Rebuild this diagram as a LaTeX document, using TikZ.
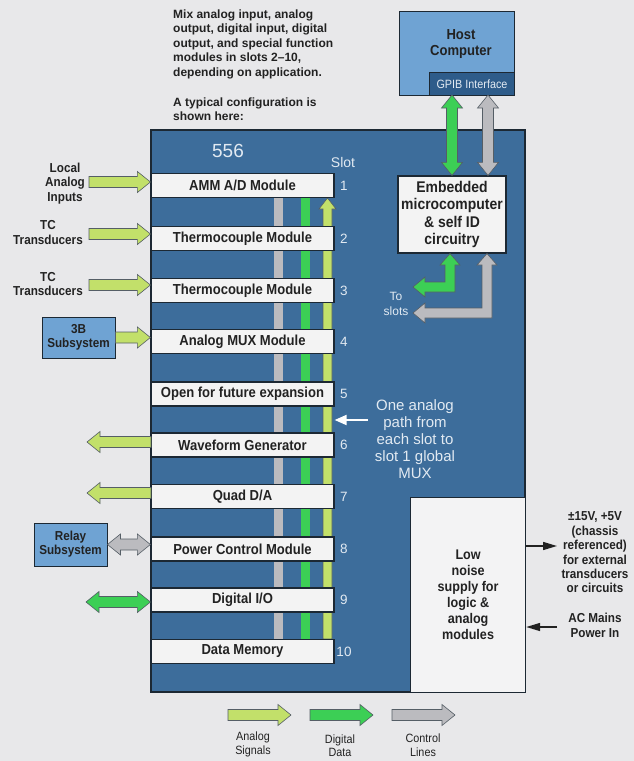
\documentclass[tikz,border=0pt]{standalone}
\usepackage{fontspec}
\setmainfont{Liberation Sans}
\newfontfamily\cond{Liberation Sans}[FakeStretch=0.9]
\usetikzlibrary{arrows.meta,calc}
\definecolor{bgc}{HTML}{E8E8EA}
\definecolor{chassis}{HTML}{3D6D9B}
\definecolor{lblue}{HTML}{6FA3D3}
\definecolor{dblue}{HTML}{2E5C8A}
\definecolor{ygreen}{HTML}{C2E06A}
\definecolor{dgreen}{HTML}{3CCF55}
\definecolor{cgrey}{HTML}{BBBBBF}
\definecolor{boxw}{HTML}{F3F3F3}
\definecolor{ink}{HTML}{222222}
\definecolor{pale}{HTML}{E2EAF2}
\definecolor{edge}{HTML}{1C2833}

\newcommand\faS{5.5pt}
\newcommand\faH{10.5pt}
\newcommand\faL{13pt}

% horizontal fat arrow, tail #2 (gives y), head at x of #3
\newcommand\fatH[3]{%
 \path[#1] let \p1=(#2), \p2=(#3), \n1={sign(\x2-\x1)} in
 (\x1,{\y1+\faS}) -- ({\x2-(\n1)*\faL},{\y1+\faS}) -- ({\x2-(\n1)*\faL},{\y1+\faH}) -- (\x2,\y1)
 -- ({\x2-(\n1)*\faL},{\y1-\faH}) -- ({\x2-(\n1)*\faL},{\y1-\faS}) -- (\x1,{\y1-\faS}) -- cycle;}
% horizontal double-headed fat arrow
\newcommand\fatHH[3]{%
 \path[#1] let \p1=(#2), \p2=(#3), \n1={sign(\x2-\x1)} in
 (\x1,\y1) -- ({\x1+(\n1)*\faL},{\y1+\faH}) -- ({\x1+(\n1)*\faL},{\y1+\faS})
 -- ({\x2-(\n1)*\faL},{\y1+\faS}) -- ({\x2-(\n1)*\faL},{\y1+\faH}) -- (\x2,\y1)
 -- ({\x2-(\n1)*\faL},{\y1-\faH}) -- ({\x2-(\n1)*\faL},{\y1-\faS})
 -- ({\x1+(\n1)*\faL},{\y1-\faS}) -- ({\x1+(\n1)*\faL},{\y1-\faH}) -- cycle;}
% vertical fat arrow, tail #2 (gives x), head at y of #3
\newcommand\fatV[3]{%
 \path[#1] let \p1=(#2), \p2=(#3), \n1={sign(\y2-\y1)} in
 ({\x1+\faS},\y1) -- ({\x1+\faS},{\y2-(\n1)*\faL}) -- ({\x1+\faH},{\y2-(\n1)*\faL}) -- (\x1,\y2)
 -- ({\x1-\faH},{\y2-(\n1)*\faL}) -- ({\x1-\faS},{\y2-(\n1)*\faL}) -- ({\x1-\faS},\y1) -- cycle;}
% vertical double-headed fat arrow
\newcommand\fatVV[3]{%
 \path[#1] let \p1=(#2), \p2=(#3), \n1={sign(\y2-\y1)} in
 (\x1,\y1) -- ({\x1+\faH},{\y1+(\n1)*\faL}) -- ({\x1+\faS},{\y1+(\n1)*\faL})
 -- ({\x1+\faS},{\y2-(\n1)*\faL}) -- ({\x1+\faH},{\y2-(\n1)*\faL}) -- (\x1,\y2)
 -- ({\x1-\faH},{\y2-(\n1)*\faL}) -- ({\x1-\faS},{\y2-(\n1)*\faL})
 -- ({\x1-\faS},{\y1+(\n1)*\faL}) -- ({\x1-\faH},{\y1+(\n1)*\faL}) -- cycle;}

\tikzset{
  fa/.style={fill=#1, draw=edge!75, line width=0.6pt, line join=miter},
  module/.style={draw=edge, line width=1.2pt, fill=boxw, minimum width=183pt, minimum height=24pt,
    inner sep=0pt, text=ink, font=\cond\bfseries\fontsize{14.5}{16}\selectfont},
  lbl/.style={align=center, inner sep=0pt, text=ink, font=\cond\bfseries\fontsize{13}{14.4}\selectfont},
  subsys/.style={draw=edge, line width=1pt, fill=lblue, align=center, inner sep=0pt, text=ink,
    font=\cond\bfseries\fontsize{13}{14}\selectfont},
  paletext/.style={text=pale, inner sep=0pt, align=center},
  blk/.style={draw=ink, line width=1.5pt, -{Triangle[length=14pt,width=8pt]}},
  legend/.style={align=center, inner sep=0pt, text=ink, font=\cond\fontsize{12}{13.5}\selectfont}
}

\begin{document}
\begin{tikzpicture}[x=1pt,y=-1pt]
\useasboundingbox (0,0) rectangle (634,761);
\fill[bgc] (0,0) rectangle (634,761);

% top note
\node[anchor=north west, align=left, inner sep=0pt, text=ink,
      font=\bfseries\fontsize{12}{14.5}\selectfont] (note) at (173,9.5)
  {Mix analog input, analog\\output, digital input, digital\\output, and special function\\modules in slots 2--10,\\depending on application.\\[15.5pt]A typical configuration is\\shown here:};

% host computer
\node[draw=edge, line width=1pt, fill=lblue, anchor=north west, minimum width=115pt, minimum height=84pt, inner sep=0pt] (host) at (399,11) {};
\node[anchor=south east, draw=edge, line width=1pt, fill=dblue, minimum width=85pt, minimum height=23pt, inner sep=0pt,
      text=pale, font=\cond\fontsize{12}{14}\selectfont] (gpib) at (host.south east) {GPIB Interface};
\node[lbl, font=\cond\bfseries\fontsize{14.5}{16}\selectfont] (hostt) at (461,44.5) {Host\\Computer};

% chassis
\path[draw=edge, line width=1.2pt, fill=chassis] (151,130) rectangle (525,692);
\node[anchor=north west, draw=edge, line width=1.2pt, fill=bgc!50!white, minimum width=115pt, minimum height=195pt,
      inner sep=0pt, align=center, text=ink, font=\cond\bfseries\fontsize{14}{16}\selectfont] (psu) at (410,497)
  {Low\\noise\\supply for\\logic \&\\analog\\modules};

\node[paletext, font=\fontsize{19}{20}\selectfont] (n556) at (228,151) {556};
\node[paletext, font=\fontsize{14}{16}\selectfont] (slot) at (343,162) {Slot};

% bus bars (behind the modules)
\fill[cgrey] (274,197) rectangle (283,641);
\fill[dgreen] (301,197) rectangle (310,641);
\begin{scope}
\renewcommand\faS{4.5pt}\renewcommand\faH{8.5pt}\renewcommand\faL{11pt}
\coordinate (yb) at (327.5,639);
\coordinate (ytop) at (327.5,198);
\fatV{fa=ygreen}{yb}{ytop}
\end{scope}

% modules
\foreach \i/\yy/\t in {1/185.5/{AMM A/D Module}, 2/238.5/{Thermocouple Module}, 3/290.5/{Thermocouple Module},
   4/341.5/{Analog MUX Module}, 5/394/{Open for future expansion}, 6/445/{Waveform Generator},
   7/496.5/{Quad D/A}, 8/549/{Power Control Module}, 9/600/{Digital I/O}, 10/651.5/{Data Memory}}
{
  \node[module] (m\i) at (242.5,\yy) {\t};
  \node[paletext, font=\fontsize{13.5}{15}\selectfont] (s\i) at (344,\yy) {\i};
}

% embedded microcomputer
\node[draw=edge, line width=1.2pt, fill=boxw, minimum width=108pt, minimum height=77pt, inner sep=0pt,
      align=center, text=ink, font=\cond\bfseries\fontsize{15.5}{17.5}\selectfont] (emb) at (452,214.5)
  {Embedded\\microcomputer\\\& self ID\\circuitry};

% host <-> embedded
\coordinate (vg) at (452,95);
\coordinate (vc) at (488,95);
\fatVV{fa=dgreen}{vg}{emb.north}
\fatVV{fa=cgrey}{vc}{emb.north}

% embedded -> slots (L-shaped)
\path[fa=dgreen] (emb.south -| 450,0) -- (460,265) -- (455,265) -- (455,292) -- (425,292) -- (425,297) -- (413,287)
   -- (425,277) -- (425,282) -- (445,282) -- (445,265) -- (440,265) -- cycle;
\path[fa=cgrey] (emb.south -| 487,0) -- (497,265) -- (492,265) -- (492,318) -- (425,318) -- (425,323) -- (413,313)
   -- (425,303) -- (425,308) -- (482,308) -- (482,265) -- (477,265) -- cycle;
\node[paletext, font=\fontsize{12}{15}\selectfont] (toslots) at (396,304) {To\\slots};

% analog path note
\node[paletext, font=\fontsize{15}{17}\selectfont] (mux) at (415,439) {One analog\\path from\\each slot to\\slot 1 global\\MUX};
\coordinate (wa) at (368,420);
\draw[draw=white, line width=1.8pt, -{Triangle[length=12pt,width=10pt]}] (wa) -- (wa -| m5.east);

% left-side sources
\node[lbl] (lai) at (65,183.5) {Local\\Analog\\Inputs};
\node[lbl] (tc1) at (48,232.5) {TC\\Transducers};
\node[lbl] (tc2) at (48,284) {TC\\Transducers};
\node[subsys, minimum width=73pt, minimum height=41pt] (b3) at (78.5,337.5) {3B\\Subsystem};
\node[subsys, minimum width=73pt, minimum height=43pt] (relay) at (70.5,544.5) {Relay\\Subsystem};

\coordinate (t1) at (89,182);
\coordinate (t2) at (89,234);
\coordinate (t3) at (89,285);
\fatH{fa=ygreen}{t1}{m1.west}
\fatH{fa=ygreen}{t2}{m2.west}
\fatH{fa=ygreen}{t3}{m3.west}
\coordinate (t4) at (b3.east);
\fatH{fa=ygreen}{t4}{m4.west}
\coordinate (o6) at (151,442);
\coordinate (h6) at (87,442);
\fatH{fa=ygreen}{o6}{h6}
\coordinate (o7) at (151,493);
\coordinate (h7) at (87,493);
\fatH{fa=ygreen}{o7}{h7}
\fatHH{fa=cgrey}{relay.east}{m8.west}
\coordinate (d9) at (86,602);
\fatHH{fa=dgreen}{d9}{m9.west}

% power supply outputs
\node[lbl] (volt) at (595,552.5) {±15V, +5V\\(chassis\\referenced)\\for external\\transducers\\or circuits};
\node[lbl, font=\cond\bfseries\fontsize{13}{15}\selectfont] (acin) at (595,625.5) {AC Mains\\Power In};
\coordinate (vt) at (557,546);
\coordinate (at) at (557,627);
\draw[blk] (psu.east |- vt) -- (vt);
\draw[blk] (at) -- (psu.east |- at);

% legend
\coordinate (la1) at (228,715); \coordinate (la2) at (291,715);
\coordinate (ld1) at (310,715); \coordinate (ld2) at (373,715);
\coordinate (lc1) at (392,715); \coordinate (lc2) at (455,715);
\fatH{fa=ygreen}{la1}{la2}
\fatH{fa=dgreen}{ld1}{ld2}
\fatH{fa=cgrey}{lc1}{lc2}
\node[legend] (lega) at (253,744.5) {Analog\\Signals};
\node[legend] (legd) at (340,745.5) {Digital\\Data};
\node[legend] (legc) at (423,745) {Control\\Lines};
\end{tikzpicture}
\end{document}
